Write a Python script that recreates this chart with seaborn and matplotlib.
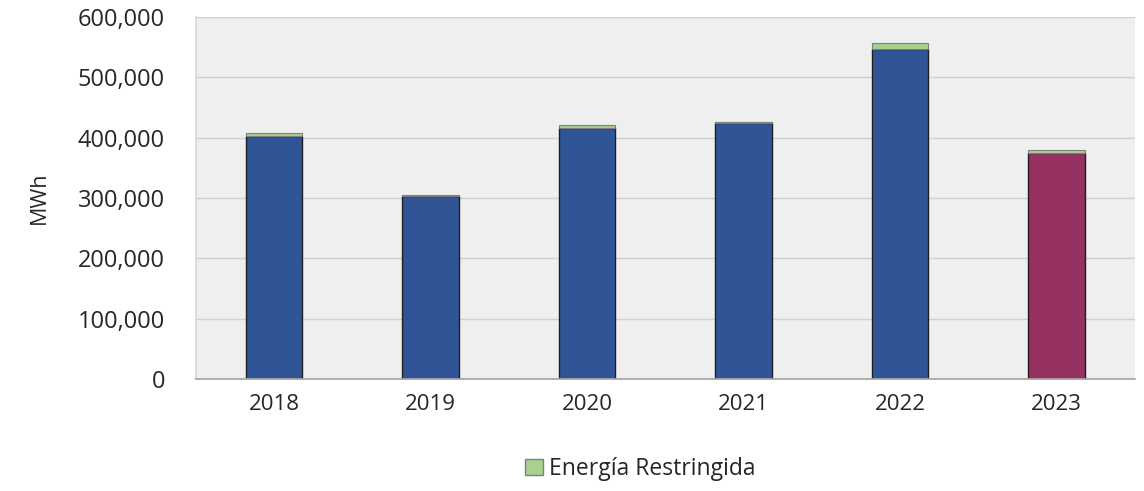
import matplotlib
matplotlib.use("Agg")
import matplotlib.pyplot as plt
import seaborn as sns
import pandas as pd
from matplotlib.ticker import FuncFormatter
from matplotlib.patches import Patch

years = ["2018", "2019", "2020", "2021", "2022", "2023"]
energia_generada = [403000, 303000, 416000, 425000, 548000, 374000]
energia_restringida = [5000, 2000, 5000, 2000, 9000, 5000]
bar_colors = ["#2F5597", "#2F5597", "#2F5597", "#2F5597", "#2F5597", "#953262"]

sns.set_theme(style="white")
plt.rcParams["font.family"] = ["Open Sans", "DejaVu Sans"]

df = pd.DataFrame({"year": years, "gen": energia_generada, "res": energia_restringida})

fig = plt.figure(figsize=(11.44, 4.91), dpi=100)
ax = fig.add_axes([0.171, 0.228, 0.821, 0.737])
ax.set_facecolor("#EFEFEF")

sns.barplot(data=df, x="year", y="gen", hue="year", palette=bar_colors,
            legend=False, width=0.36, edgecolor="#1F1F1F", linewidth=1.0,
            saturation=1, ax=ax)
ax.bar(range(len(years)), energia_restringida, bottom=energia_generada,
       width=0.36, color="#A9D18E", edgecolor="#7F7F7F", linewidth=0.8, zorder=3)

ax.set_ylim(0, 600000)
ax.set_xlim(-0.5, len(years) - 0.5)
ax.set_yticks(range(0, 600001, 100000))
ax.yaxis.set_major_formatter(FuncFormatter(lambda v, p: f"{int(v):,}"))
ax.grid(axis="y", color="#D0D0D0", linewidth=1.0)
ax.set_axisbelow(True)
for s in ["top", "right"]:
    ax.spines[s].set_visible(False)
ax.spines["left"].set_color("#D9D9D9")
ax.spines["bottom"].set_color("#A6A6A6")
ax.tick_params(axis="y", labelsize=17, colors="#262626", length=0, pad=22)
ax.tick_params(axis="x", labelsize=16, colors="#262626", length=0, pad=11)
ax.set_xlabel("")
ax.set_ylabel("MWh", fontsize=15.5, color="#262626", labelpad=20)

handles = [Patch(facecolor="#A9D18E", edgecolor="#7F7F7F", label="Energía Restringida")]
fig.legend(handles=handles, loc="center", bbox_to_anchor=(0.56, 0.045), frameon=False,
           fontsize=16.5, handlelength=0.75, handleheight=0.75, handletextpad=0.3,
           labelcolor="#262626")

fig.savefig("out.png", dpi=100, facecolor="white")
